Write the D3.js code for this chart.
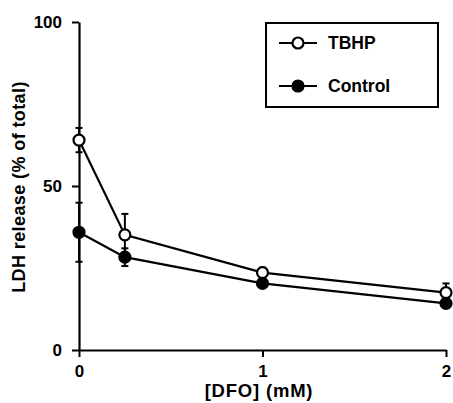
<!DOCTYPE html>
<html>
<head>
<meta charset="utf-8">
<script src="https://cdn.jsdelivr.net/npm/d3@7"></script>
<style>
	body { margin: 0; background: #fff; }
	text { font-family: "Liberation Sans", Arial, sans-serif; font-weight: bold; fill: #000; }
</style>
</head>
<body>
<div id="chart"></div>
<script>
	// Data
	var dfo_mM = [0, 0.25, 1, 2];
	var tbhp_mean = [64, 35.1, 23.6, 17.5];
	var tbhp_err = [3.7, 6.4, 1.5, 2.8];
	var control_mean = [35.9, 28.3, 20.3, 14.2];
	var control_err = [9, 2.7, 1.2, 1.2];
	var y_ticks = [0, 50, 100];
	var x_ticks = [0, 1, 2];
	var series_names = ["TBHP", "Control"];

	var svg_width = 453,
		svg_height = 403;

	var svg = d3.select("#chart").append("svg")
		.attr("width", svg_width)
		.attr("height", svg_height);

	var xScale = d3.scaleLinear().domain([0, 2]).range([79, 446]);
	var yScale = d3.scaleLinear().domain([0, 100]).range([350, 22]);

	var series = [
		{ name: series_names[0], mean: tbhp_mean, err: tbhp_err, fill: "#fff" },
		{ name: series_names[1], mean: control_mean, err: control_err, fill: "#000" }
	];

	// Y-axis
	var yAxis = d3.axisLeft(yScale).tickValues(y_ticks).tickSize(7).tickPadding(10).tickSizeOuter(0);
	var gy = svg.append("g")
		.attr("transform", "translate(79,0)")
		.call(yAxis);
	gy.select(".domain").attr("stroke-width", 2.2);
	gy.selectAll(".tick line").attr("stroke-width", 2);
	gy.selectAll(".tick text").style("font-size", "17px").attr("dy", "0.35em");

	// X-axis
	var xAxis = d3.axisBottom(xScale).tickValues(x_ticks).tickFormat(d3.format("d"))
		.tickSize(7).tickPadding(8).tickSizeOuter(0);
	var gx = svg.append("g")
		.attr("transform", "translate(0,350)")
		.call(xAxis);
	gx.select(".domain").attr("stroke-width", 2.2);
	gx.selectAll(".tick line").attr("stroke-width", 2);
	gx.selectAll(".tick text").style("font-size", "17px");

	// Axis labels
	svg.append("text")
		.attr("transform", "rotate(-90)")
		.attr("x", -187)
		.attr("y", 25)
		.style("text-anchor", "middle")
		.style("font-size", "18px")
		.style("letter-spacing", "0.4px")
		.text("LDH release (% of total)");

	svg.append("text")
		.attr("x", 259)
		.attr("y", 397)
		.style("text-anchor", "middle")
		.style("font-size", "18.5px")
		.style("letter-spacing", "0.8px")
		.text("[DFO] (mM)");

	var line = d3.line()
		.x(function(d) { return xScale(d[0]); })
		.y(function(d) { return yScale(d[1]); });

	// Draw series
	series.forEach(function(s) {
		var pts = dfo_mM.map(function(x, i) { return [x, s.mean[i], s.err[i]]; });
		var g = svg.append("g");

		// error bars
		pts.forEach(function(p) {
			var cx = xScale(p[0]);
			var y1 = yScale(p[1] + p[2]), y2 = yScale(p[1] - p[2]);
			g.append("line").attr("x1", cx).attr("x2", cx).attr("y1", y1).attr("y2", y2)
				.attr("stroke", "#000").attr("stroke-width", 2);
			[y1, y2].forEach(function(yy) {
				g.append("line").attr("x1", cx - 3.5).attr("x2", cx + 3.5).attr("y1", yy).attr("y2", yy)
					.attr("stroke", "#000").attr("stroke-width", 2);
			});
		});

		g.append("path")
			.datum(pts)
			.attr("d", line)
			.attr("fill", "none")
			.attr("stroke", "#000")
			.attr("stroke-width", 2.2);

		g.selectAll("circle")
			.data(pts)
			.enter()
			.append("circle")
			.attr("cx", function(d) { return xScale(d[0]); })
			.attr("cy", function(d) { return yScale(d[1]); })
			.attr("r", 5.5)
			.attr("fill", s.fill)
			.attr("stroke", "#000")
			.attr("stroke-width", 2.2);
	});

	// Legend
	var legend = svg.append("g");
	legend.append("rect")
		.attr("x", 266)
		.attr("y", 23)
		.attr("width", 172)
		.attr("height", 84)
		.attr("fill", "#fff")
		.attr("stroke", "#000")
		.attr("stroke-width", 2);

	var items = legend.selectAll(".legend-item")
		.data(series)
		.enter()
		.append("g")
		.attr("class", "legend-item")
		.attr("transform", function(d, i) { return "translate(0," + (43 + i * 43) + ")"; });

	items.append("line")
		.attr("x1", 279).attr("x2", 317)
		.attr("stroke", "#000").attr("stroke-width", 2.2);
	items.append("circle")
		.attr("cx", 298).attr("r", 5.5)
		.attr("fill", function(d) { return d.fill; })
		.attr("stroke", "#000").attr("stroke-width", 2.2);
	items.append("text")
		.attr("x", 328)
		.attr("y", 0)
		.attr("dy", "0.36em")
		.style("font-size", "17.5px")
		.text(function(d) { return d.name; });
</script>
</body>
</html>
